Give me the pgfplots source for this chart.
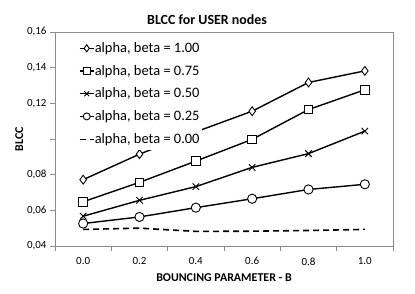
\documentclass[border=0pt]{standalone}
\usepackage{pgfplots}
\pgfplotsset{compat=1.18}
\usepackage{fontspec}
\setmainfont{Carlito}
\begin{document}
\begin{tikzpicture}[x=1bp,y=1bp]
\begin{axis}[
  scale only axis, width=338bp, height=214bp,
  xmin=-0.5, xmax=5.5, ymin=0.04, ymax=0.16,
  xtick={0,1,2,3,4,5},
  xticklabels={0.0,0.2,0.4,0.6,0.8,1.0},
  major x tick style={draw=none},
  minor xtick={-0.5,0.5,1.5,2.5,3.5,4.5,5.5},
  minor tick length=5bp,
  ytick={0.04,0.06,0.08,0.10,0.12,0.14,0.16},
  yticklabels={{0,04},{0,06},{0,08},{},{0,12},{0,14},{0,16}},
  major tick length=5bp,
  tick align=outside,
  tick pos=left,
  axis line style={draw=black!45},
  every tick/.style={draw=black!45},
  ticklabel style={font=\fontsize{11}{12}\selectfont},
  xticklabel style={yshift=-3bp},
  /pgf/number format/assume math mode=true,
  xlabel={\textbf{BOUNCING PARAMETER - B}},
  ylabel={\textbf{BLCC}},
  label style={font=\fontsize{12}{13}\selectfont},
  xlabel style={yshift=-2bp},
  ylabel style={yshift=-3bp},
  title={\textbf{BLCC for USER nodes}},
  title style={font=\fontsize{14}{16}\selectfont, at={(rel axis cs:0.45,1)}, yshift=-2bp},
  legend style={draw=none, fill=white, at={(rel axis cs:0.065,0.975)}, anchor=north west,
    font=\fontsize{14.5}{16}\selectfont, row sep=7.2bp, inner xsep=2bp, inner ysep=3bp,
    nodes={inner xsep=0.5bp}},
  legend cell align=left,
  legend image code/.code={\draw[#1,line width=1.1bp] (0bp,0bp) -- (14bp,0bp); \draw[#1,only marks,mark size=3.5bp] plot coordinates {(7bp,0bp)};},
  every axis plot/.append style={black, line width=1.4bp, mark options={solid, fill=white, line width=0.9bp}},
]
\addplot[mark=diamond*, mark size=4.4bp] coordinates {(0,0.0772) (1,0.0915) (2,0.1040) (3,0.1156) (4,0.1317) (5,0.1382)};
\addlegendentry{alpha, beta = 1.00}
\addplot[mark=square*, mark size=4.3bp] coordinates {(0,0.0648) (1,0.0757) (2,0.0876) (3,0.0998) (4,0.1165) (5,0.1276)};
\addlegendentry{alpha, beta = 0.75}
\addplot[mark=x, mark size=4.6bp] coordinates {(0,0.0567) (1,0.0656) (2,0.0733) (3,0.0841) (4,0.0918) (5,0.1044)};
\addlegendentry{alpha, beta = 0.50}
\addplot[mark=*, mark size=4.6bp] coordinates {(0,0.0526) (1,0.0563) (2,0.0615) (3,0.0665) (4,0.0717) (5,0.0746)};
\addlegendentry{alpha, beta = 0.25}
\addplot[dashed, dash pattern=on 6bp off 4bp, line width=1.6bp] coordinates {(0,0.0493) (1,0.0500) (2,0.0482) (3,0.0483) (4,0.0487) (5,0.0493)};
\addlegendentry{alpha, beta = 0.00}
\end{axis}
\path (current axis.south west) ++(-55bp,-48bp) rectangle ++(415bp,294bp);
\end{tikzpicture}
\end{document}
